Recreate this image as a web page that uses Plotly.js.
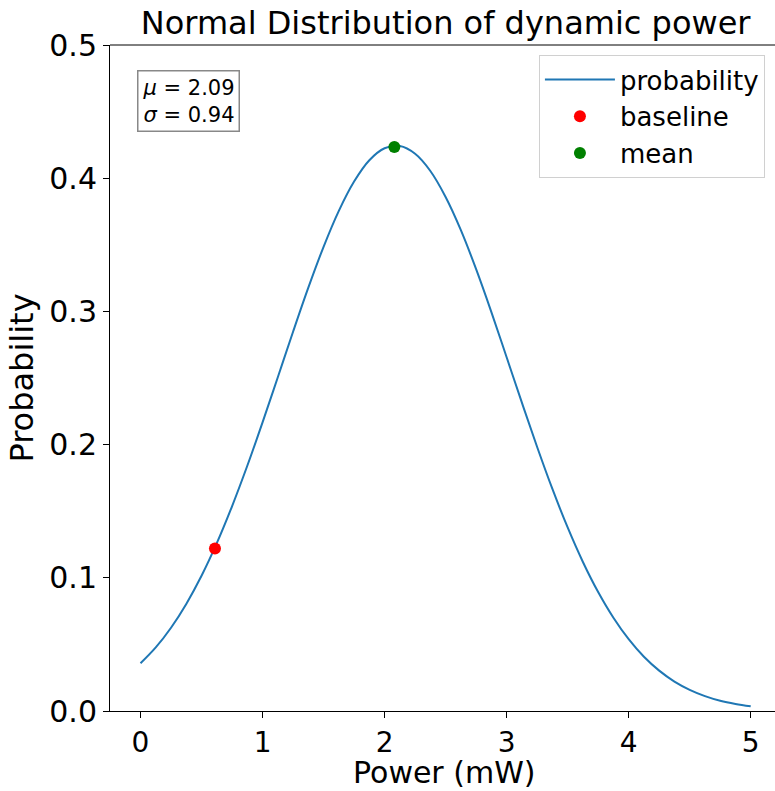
<!DOCTYPE html>
<html>
<head>
<meta charset="utf-8">
<script src="https://cdn.plot.ly/plotly-3.0.1.min.js"></script>
<style>html,body{margin:0;padding:0;background:#fff;}#chart{width:775px;height:791px;}</style>
</head>
<body>
<div id="chart"></div>
<script>
// Values
const powerX = [0, 0.125, 0.25, 0.375, 0.5, 0.625, 0.75, 0.875, 1.0, 1.125, 1.25, 1.375, 1.5, 1.625, 1.75, 1.875, 2.0, 2.125, 2.25, 2.375, 2.5, 2.625, 2.75, 2.875, 3.0, 3.125, 3.25, 3.375, 3.5, 3.625, 3.75, 3.875, 4.0, 4.125, 4.25, 4.375, 4.5, 4.625, 4.75, 4.875, 5.0];
const probabilityY = [0.0358, 0.0477, 0.0625, 0.0804, 0.1015, 0.1260, 0.1537, 0.1841, 0.2167, 0.2506, 0.2847, 0.3178, 0.3485, 0.3755, 0.3975, 0.4135, 0.4225, 0.4241, 0.4183, 0.4054, 0.3859, 0.3610, 0.3317, 0.2995, 0.2656, 0.2315, 0.1982, 0.1667, 0.1378, 0.1119, 0.0893, 0.0700, 0.0539, 0.0407, 0.0303, 0.0221, 0.0159, 0.0112, 0.0077, 0.0053, 0.0035];
const baselineX = [0.61];
const baselineY = [0.122];
const meanX = [2.08];
const meanY = [0.4235];
const xTicks = [0, 1, 2, 3, 4, 5];
const yTicks = [0.0, 0.1, 0.2, 0.3, 0.4, 0.5];
const yTickLabels = ["0.0", "0.1", "0.2", "0.3", "0.4", "0.5"];

const FONT = "DejaVu Sans, sans-serif";

const traces = [
  {x: powerX, y: probabilityY, mode: "lines", name: "probability",
   line: {color: "#1f77b4", width: 2, shape: "spline"}},
  {x: baselineX, y: baselineY, mode: "markers", name: "baseline",
   marker: {color: "#ff0000", size: 12}},
  {x: meanX, y: meanY, mode: "markers", name: "mean",
   marker: {color: "#008000", size: 12}}
];

const layout = {
  width: 775, height: 791,
  margin: {l: 109.5, r: 0, t: 44.5, b: 80, pad: 0},
  paper_bgcolor: "#fff", plot_bgcolor: "#fff",
  font: {family: FONT, color: "#000"},
  title: {text: "Normal Distribution of dynamic power", font: {family: FONT, size: 32, color: "#000"},
          xref: "container", x: 0.575, xanchor: "center", yref: "container", y: 0.971, yanchor: "middle"},
  xaxis: {range: [-0.25, 5.199], tickvals: xTicks, ticktext: xTicks.map(String),
          showgrid: false, zeroline: false, showline: true, linecolor: "#000", linewidth: 1,
          ticks: "outside", ticklen: 6, tickwidth: 1, tickcolor: "#000",
          tickfont: {family: FONT, size: 28, color: "#000"}},
  yaxis: {range: [0, 0.5], tickvals: yTicks, ticktext: yTickLabels,
          showgrid: false, zeroline: false, showline: true, linecolor: "#000", linewidth: 1,
          ticks: "outside", ticklen: 6, tickwidth: 1, tickcolor: "#000",
          tickfont: {family: FONT, size: 30, color: "#000"},
          title: {text: "Probability", font: {family: FONT, size: 32, color: "#000"}, standoff: 6}},
  shapes: [{type: "line", xref: "paper", yref: "paper", x0: 0, x1: 1, y0: 1, y1: 1,
            line: {color: "#000", width: 1}}],
  legend: {x: 0.645, y: 0.985, xanchor: "left", yanchor: "top", itemwidth: 70,
           bgcolor: "rgba(255,255,255,0.8)", bordercolor: "#d0d0d0", borderwidth: 1,
           font: {family: FONT, size: 26, color: "#000"}, tracegroupgap: 0},
  annotations: [
    {xref: "paper", yref: "paper", x: 0.04, y: 0.962, xanchor: "left", yanchor: "top",
     text: "<i>μ</i> = 2.09<br><i>σ</i> = 0.94", align: "left", showarrow: false,
     font: {family: FONT, size: 21, color: "#000"},
     bgcolor: "#fff", bordercolor: "#888", borderwidth: 1.5, borderpad: 4},
    {xref: "paper", yref: "paper", x: 0.5034, y: -0.1195, xanchor: "center", yanchor: "bottom",
     text: "Power (mW)", showarrow: false, borderpad: 0,
     font: {family: FONT, size: 30, color: "#000"}}
  ],
  showlegend: true
};

Plotly.newPlot("chart", traces, layout, {displayModeBar: false, staticPlot: true});
</script>
</body>
</html>
